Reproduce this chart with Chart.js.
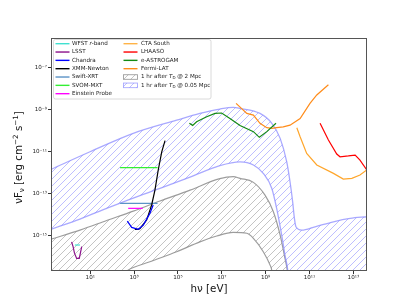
<!DOCTYPE html>
<html>
<head>
<meta charset="utf-8">
<script src="https://cdn.jsdelivr.net/npm/chart.js@4.4.1/dist/chart.umd.min.js"></script>
<style>
  body { margin: 0; background: #fff; }
  canvas { display: block; }
</style>
</head>
<body>
<canvas id="sed" width="407" height="305"></canvas>
<script>
// all values are log10: x = log10(h nu / eV), y = log10(nu F_nu / erg cm^-2 s^-1)
var xTickExp = [1, 3, 5, 7, 9, 11, 13];
var yTickExp = [-15, -13, -11, -9, -7];

// 1 hr after T_D @ 0.05 Mpc (blue band)
var blueUpE = [-0.79, 0.99, 2.96, 4.94, 6.00, 6.91, 7.52, 7.83, 8.74, 9.28, 9.66, 9.96, 10.11, 10.23, 10.31, 10.38, 10.64, 11.25, 12.09, 12.85, 13.62];
var blueUpF = [-11.85, -11.01, -10.13, -9.50, -9.18, -8.97, -8.89, -8.94, -9.18, -9.65, -10.37, -11.49, -12.44, -13.40, -14.19, -14.59, -14.75, -14.59, -14.35, -14.19, -14.11];
var blueLoE = [-0.79, 0.53, 1.75, 2.96, 4.18, 5.55, 6.91, 7.83, 8.44, 8.89, 9.28, 9.50, 9.73, 9.88, 10.03, 10.2, 13.62];
var blueLoF = [-14.71, -14.22, -13.71, -13.22, -12.76, -12.22, -11.67, -11.49, -11.64, -12.04, -12.76, -13.71, -14.99, -15.94, -16.90, -20, -20];

// 1 hr after T_D @ 2 Mpc (gray band)
var grayUpE = [-0.79, 0.53, 1.75, 2.96, 4.18, 5.55, 6.91, 7.52, 7.83, 8.44, 8.97, 9.35, 9.66, 9.88, 9.99, 10.3];
var grayUpF = [-15.18, -14.75, -14.29, -13.84, -13.36, -12.84, -12.29, -12.20, -12.28, -12.47, -13.08, -13.87, -14.99, -16.10, -16.70, -20];
var grayLoE = [-0.79, 2.66, 3.72, 4.94, 6.00, 6.77, 7.52, 8.14, 8.44, 8.89, 9.20, 9.28, 9.5, 10.3];
var grayLoF = [-20, -16.70, -16.26, -15.78, -15.31, -15.03, -14.86, -14.90, -15.14, -15.78, -16.42, -16.70, -20, -20];

// instruments
var wfstE = [0.30, 0.53];
var wfstF = [-15.46, -15.46];
var lsstE = [0.15, 0.22, 0.28, 0.38, 0.50, 0.55, 0.61];
var lsstF = [-15.31, -15.55, -15.85, -16.10, -16.10, -15.85, -15.54];
var chandraE = [2.69, 2.89, 3.19, 3.42, 3.72, 3.87];
var chandraF = [-14.32, -14.62, -14.71, -14.51, -13.95, -13.55];
var xmmE = [3.04, 3.19, 3.27, 3.57, 3.80, 3.95, 4.10, 4.26, 4.41];
var xmmF = [-14.71, -14.71, -14.67, -14.27, -13.55, -12.84, -11.88, -11.01, -10.48];
var swiftE = [2.36, 4.07];
var swiftF = [-13.47, -13.47];
var svomE = [2.36, 4.07];
var svomF = [-11.77, -11.77];
var epE = [2.73, 3.39];
var epF = [-13.71, -13.71];
var astroE = [5.52, 5.67, 5.85, 6.31, 6.69, 6.99, 7.37, 7.83, 8.44, 8.71, 9.05, 9.47];
var astroF = [-9.65, -9.75, -9.58, -9.34, -9.18, -9.16, -9.42, -9.76, -10.05, -10.32, -10.05, -9.65];
var fermiE = [7.65, 8.14, 8.44, 8.74, 9.05, 9.28, 9.50, 9.80, 10.11, 10.57, 11.02, 11.33, 11.86];
var fermiF = [-8.70, -9.18, -9.26, -9.65, -9.86, -9.89, -9.86, -9.82, -9.74, -9.42, -8.70, -8.30, -7.81];
var ctaE = [10.42, 10.57, 10.87, 11.33, 12.09, 12.54, 12.93, 13.30, 13.61];
var ctaF = [-9.86, -10.29, -11.09, -11.64, -12.04, -12.31, -12.28, -12.12, -11.88];
var lhaasoE = [11.48, 11.86, 12.24, 12.39, 12.77, 13.08, 13.30, 13.61];
var lhaasoF = [-9.65, -10.45, -11.12, -11.25, -11.21, -11.17, -11.41, -11.88];

function pts(ex, ey) {
    return ex.map(function (e, i) { return { x: Math.pow(10, e), y: Math.pow(10, ey[i]) }; });
}

function hatch(color) {
    var c = document.createElement('canvas');
    c.width = 7; c.height = 7;
    var g = c.getContext('2d');
    g.strokeStyle = color;
    g.lineWidth = 0.8;
    g.beginPath();
    g.moveTo(-1, 8); g.lineTo(8, -1);
    g.moveTo(-1, 1); g.lineTo(1, -1);
    g.moveTo(6, 8); g.lineTo(8, 6);
    g.stroke();
    return g.createPattern(c, 'repeat');
}

var blueEdge = 'rgba(140,140,255,0.75)';
var grayEdge = 'rgba(140,140,140,0.85)';
var blueHatch = hatch('rgba(130,130,255,0.65)');
var grayHatch = hatch('rgba(130,130,130,0.6)');

function inst(label, ex, ey, color) {
    return { label: label, data: pts(ex, ey), borderColor: color, borderWidth: 1.2, pointRadius: 0, fill: false, tension: 0, order: 0 };
}

var sup = { '-': '\u207b', '0': '\u2070', '1': '\u00b9', '2': '\u00b2', '3': '\u00b3', '4': '\u2074', '5': '\u2075', '6': '\u2076', '7': '\u2077', '8': '\u2078', '9': '\u2079' };
function tenTo(v) {
    var n = Math.round(Math.log10(v));
    return '10' + String(n).split('').map(function (c) { return sup[c]; }).join('');
}

// pieces: [text, size, dy, italic]
function drawPieces(ctx, pieces, x, y, align) {
    var total = 0;
    pieces.forEach(function (p) {
        ctx.font = (p[3] ? 'italic ' : '') + p[1] + 'px "DejaVu Sans"';
        total += ctx.measureText(p[0]).width;
    });
    var cx = align === 'center' ? x - total / 2 : x;
    pieces.forEach(function (p) {
        ctx.font = (p[3] ? 'italic ' : '') + p[1] + 'px "DejaVu Sans"';
        ctx.fillText(p[0], cx, y + p[2]);
        cx += ctx.measureText(p[0]).width;
    });
}

var legendCol1 = [
    ['WFST ', 'r', '-band', '#40e0d0'],
    ['LSST', '', '', '#8b108b'],
    ['Chandra', '', '', '#0000ff'],
    ['XMM-Newton', '', '', '#000000'],
    ['Swift-XRT', '', '', '#5b93c6'],
    ['SVOM-MXT', '', '', '#33ee33'],
    ['Einstein Probe', '', '', '#ff00ff']
];
var legendCol2 = [
    ['CTA South', '#ffb347'],
    ['LHAASO', '#ff0000'],
    ['e-ASTROGAM', '#138a13'],
    ['Fermi-LAT', '#ff8c1a']
];

var decor = {
    id: 'decor',
    afterDraw: function (chart) {
        var ctx = chart.ctx, a = chart.chartArea;
        ctx.save();
        // frame
        ctx.strokeStyle = '#555';
        ctx.lineWidth = 1;
        ctx.strokeRect(a.left + 0.5, a.top + 0.5, a.right - a.left - 1, a.bottom - a.top - 1);

        // legend box
        ctx.fillStyle = 'rgba(255,255,255,0.85)';
        ctx.strokeStyle = '#d0d0d0';
        ctx.lineWidth = 0.8;
        ctx.beginPath();
        ctx.roundRect(53.5, 39.5, 157.5, 59.5, 2);
        ctx.fill();
        ctx.stroke();

        ctx.textBaseline = 'middle';
        ctx.textAlign = 'left';
        var rowH = 8.33, y0 = 43.7;
        legendCol1.forEach(function (it, i) {
            var y = y0 + i * rowH;
            ctx.strokeStyle = it[3];
            ctx.lineWidth = 1.4;
            ctx.beginPath(); ctx.moveTo(55.5, y); ctx.lineTo(69.5, y); ctx.stroke();
            ctx.fillStyle = '#222';
            drawPieces(ctx, [[it[0], 5.6, 0], [it[1], 5.6, 0, true], [it[2], 5.6, 0]], 72, y, 'left');
        });
        legendCol2.forEach(function (it, i) {
            var y = y0 + i * rowH;
            ctx.strokeStyle = it[1];
            ctx.lineWidth = 1.4;
            ctx.beginPath(); ctx.moveTo(123.5, y); ctx.lineTo(137.5, y); ctx.stroke();
            ctx.fillStyle = '#222';
            drawPieces(ctx, [[it[0], 5.6, 0]], 141, y, 'left');
        });
        [['2 Mpc', grayHatch, grayEdge], ['0.05 Mpc', blueHatch, blueEdge]].forEach(function (it, i) {
            var y = y0 + (4 + i) * rowH;
            ctx.fillStyle = it[1];
            ctx.fillRect(123.5, y - 2.3, 14, 4.6);
            ctx.strokeStyle = it[2];
            ctx.lineWidth = 0.9;
            ctx.strokeRect(123.5, y - 2.3, 14, 4.6);
            ctx.fillStyle = '#222';
            drawPieces(ctx, [['1 hr after ', 5.6, 0], ['T', 5.6, 0, true], ['D', 4.0, 1.3], [' @ ' + it[0], 5.6, 0]], 141, y, 'left');
        });

        // axis titles
        ctx.fillStyle = '#111';
        ctx.textBaseline = 'alphabetic';
        drawPieces(ctx, [['h\u03bd [eV]', 10.3, 0]], (a.left + a.right) / 2, 292, 'center');
        ctx.translate(22, (a.top + a.bottom) / 2 + 3);
        ctx.rotate(-Math.PI / 2);
        drawPieces(ctx, [['\u03bdF', 10.3, 0], ['\u03bd', 7.2, 2.2], [' [erg cm', 10.3, 0], ['\u22122', 7.2, -4.2], [' s', 10.3, 0], ['\u22121', 7.2, -4.2], [']', 10.3, 0]], 0, 0, 'center');
        ctx.restore();
    }
};

var ctx = document.getElementById('sed').getContext('2d');
var myChart = new Chart(ctx, {
    type: 'line',
    data: {
        datasets: [
            inst('WFST r-band', wfstE, wfstF, '#40e0d0'),
            inst('LSST', lsstE, lsstF, '#8b108b'),
            inst('Chandra', chandraE, chandraF, '#0000ff'),
            inst('XMM-Newton', xmmE, xmmF, '#000000'),
            inst('Swift-XRT', swiftE, swiftF, '#5b93c6'),
            inst('SVOM-MXT', svomE, svomF, '#33ee33'),
            inst('Einstein Probe', epE, epF, '#ff00ff'),
            inst('CTA South', ctaE, ctaF, '#ffa62b'),
            inst('LHAASO', lhaasoE, lhaasoF, '#ff0000'),
            inst('e-ASTROGAM', astroE, astroF, '#138a13'),
            inst('Fermi-LAT', fermiE, fermiF, '#ff8c1a'),
            { label: 'blue upper', data: pts(blueUpE, blueUpF), borderColor: blueEdge, borderWidth: 1.3, pointRadius: 0,
              cubicInterpolationMode: 'monotone', fill: '+1', backgroundColor: blueHatch, order: 5 },
            { label: 'blue lower', data: pts(blueLoE, blueLoF), borderColor: blueEdge, borderWidth: 1.3, pointRadius: 0,
              cubicInterpolationMode: 'monotone', fill: false, order: 5 },
            { label: 'gray upper', data: pts(grayUpE, grayUpF), borderColor: grayEdge, borderWidth: 1.2, pointRadius: 0,
              cubicInterpolationMode: 'monotone', fill: '+1', backgroundColor: grayHatch, order: 6 },
            { label: 'gray lower', data: pts(grayLoE, grayLoF), borderColor: grayEdge, borderWidth: 1.2, pointRadius: 0,
              cubicInterpolationMode: 'monotone', fill: false, order: 6 }
        ]
    },
    options: {
        responsive: false,
        animation: false,
        devicePixelRatio: 1,
        layout: { padding: { left: 0, top: 38, right: 40, bottom: 0 } },
        plugins: { legend: { display: false }, tooltip: { enabled: false } },
        scales: {
            x: {
                type: 'logarithmic',
                bounds: 'data',
                min: Math.pow(10, -0.79),
                max: Math.pow(10, 13.62),
                afterBuildTicks: function (scale) { scale.ticks = xTickExp.map(function (e) { return { value: Math.pow(10, e) }; }); },
                afterFit: function (scale) { scale.height = 34; },
                grid: { drawOnChartArea: false, tickLength: 3, tickColor: '#333' },
                border: { display: false },
                ticks: { callback: tenTo, autoSkip: false, maxRotation: 0, padding: 0, color: '#222', font: { family: 'DejaVu Sans', size: 5.6 } }
            },
            y: {
                type: 'logarithmic',
                bounds: 'data',
                min: Math.pow(10, -16.7),
                max: Math.pow(10, -5.58),
                afterBuildTicks: function (scale) { scale.ticks = yTickExp.map(function (e) { return { value: Math.pow(10, e) }; }); },
                afterFit: function (scale) { scale.width = 51; },
                grid: { drawOnChartArea: false, tickLength: 3, tickColor: '#333' },
                border: { display: false },
                ticks: { callback: tenTo, autoSkip: false, padding: 1, color: '#222', font: { family: 'DejaVu Sans', size: 5.6 } }
            }
        }
    },
    plugins: [decor]
});
</script>
</body>
</html>
